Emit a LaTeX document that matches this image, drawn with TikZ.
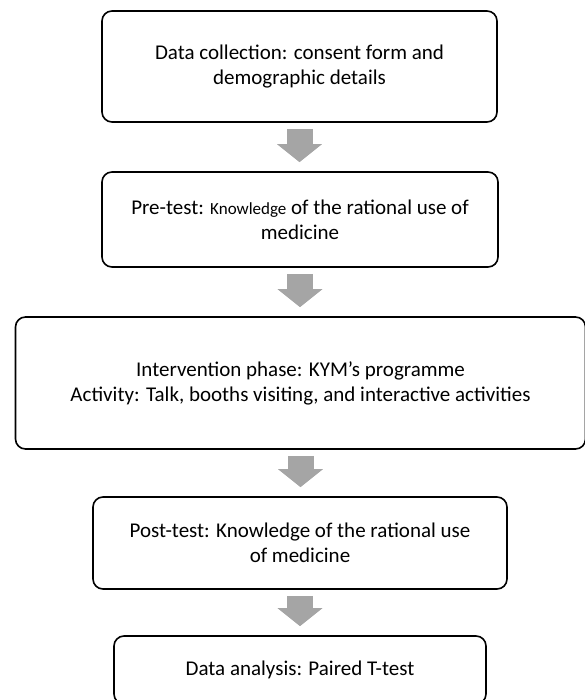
\documentclass[tikz,border=0pt]{standalone}
\usepackage{fontspec}
\setmainfont{Carlito}
\usepackage{tikz}
\usepackage{xcolor}
\usetikzlibrary{arrows.meta,positioning}
\definecolor{arrowGray}{RGB}{165,165,165}
\newcommand{\SmallWord}[1]{{\fontsize{17}{25}\selectfont #1}}

\begin{document}
\begin{tikzpicture}[x=1pt,y=-1pt,
  stagebox/.style={draw=black,line width=1.6pt,rounded corners=10pt,align=center,inner sep=0pt,font=\fontsize{21}{25}\selectfont},
  stagearrow/.style={arrowGray,line width=26pt,-{Triangle[width=44pt,length=18pt]},shorten <=6pt,shorten >=9pt}]
\useasboundingbox (0,0) rectangle (584,700);
\node[stagebox,minimum width=395pt,minimum height=111pt] (collect) at (299.5,66.5) {Data collection: consent form and\\demographic details};
\node[stagebox,minimum width=396pt,minimum height=95pt] (pretest) at (300,219.5) {Pre-test: \SmallWord{Knowledge} of the rational use of\\medicine};
\node[stagebox,minimum width=570pt,minimum height=132pt] (interv) at (300.5,383) {Intervention phase: KYM’s programme\\Activity: Talk, booths visiting, and interactive activities};
\node[stagebox,minimum width=414pt,minimum height=92pt] (posttest) at (300,543) {Post-test: Knowledge of the rational use\\of medicine};
\node[stagebox,minimum width=372pt,minimum height=68pt] (analysis) at (300,670) {Data analysis: Paired T-test};
\draw[stagearrow] (collect.south) -- (collect.south |- pretest.north);
\draw[stagearrow] (pretest.south) -- (pretest.south |- interv.north);
\draw[stagearrow] (interv.south) -- (interv.south |- posttest.north);
\draw[stagearrow] (posttest.south) -- (posttest.south |- analysis.north);
\end{tikzpicture}
\end{document}
